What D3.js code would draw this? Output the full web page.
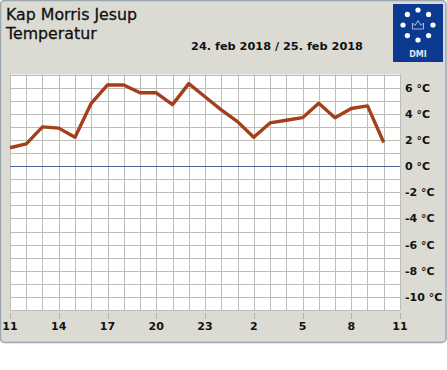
<!DOCTYPE html>
<html>
<head>
<meta charset="utf-8">
<script src="https://cdn.jsdelivr.net/npm/d3@7"></script>
<style>
  body { margin: 0; background: #fff; }
  svg { display: block; font-family: "DejaVu Sans", sans-serif; }
</style>
</head>
<body>
<div id="chart"></div>
<script>
var svgWidth = 447;
var svgHeight = 370;

// hourly readings, 24 feb 11:00 -> 25 feb 10:00
var hours = [11, 12, 13, 14, 15, 16, 17, 18, 19, 20, 21, 22, 23, 0, 1, 2, 3, 4, 5, 6, 7, 8, 9, 10];
var temps = [1.4, 1.7, 3.0, 2.9, 2.2, 4.8, 6.2, 6.2, 5.6, 5.6, 4.7, 6.3, 5.3, 4.3, 3.4, 2.2, 3.3, 3.5, 3.7, 4.8, 3.7, 4.4, 4.6, 1.8];
var xTickLabels = ["11", "14", "17", "20", "23", "2", "5", "8", "11"];
var yTicks = [6, 4, 2, 0, -2, -4, -6, -8, -10];

var plot = { left: 10, top: 74.5, right: 400, bottom: 310 };

var svg = d3.select("#chart")
  .append("svg")
  .attr("width", svgWidth)
  .attr("height", svgHeight);

// grey panel
svg.append("rect")
  .attr("x", 0.5).attr("y", 0.5)
  .attr("width", 445.5).attr("height", 342)
  .attr("rx", 4)
  .attr("fill", "#dcdbd3")
  .attr("stroke", "#9ba7ae")
  .attr("stroke-width", 1.5);

// scales: index of hour along x, temperature along y
var x = d3.scaleLinear().domain([0, 24]).range([plot.left, plot.right]);
var y = d3.scaleLinear().domain([-11, 7]).range([plot.bottom, plot.top]);

svg.append("rect")
  .attr("x", plot.left).attr("y", plot.top)
  .attr("width", plot.right - plot.left).attr("height", plot.bottom - plot.top)
  .attr("fill", "#fff");

var grid = svg.append("g").attr("stroke", "#bdbdb8").attr("stroke-width", 1);

grid.selectAll("line.v")
  .data(d3.range(0, 25))
  .enter().append("line")
  .attr("x1", d => Math.round(x(d)) + 0.5).attr("x2", d => Math.round(x(d)) + 0.5)
  .attr("y1", plot.top).attr("y2", plot.bottom);

grid.selectAll("line.h")
  .data(d3.range(-11, 8))
  .enter().append("line")
  .attr("x1", plot.left).attr("x2", plot.right)
  .attr("y1", d => Math.round(y(d)) + 0.5).attr("y2", d => Math.round(y(d)) + 0.5);

// zero line
svg.append("line")
  .attr("x1", plot.left).attr("x2", plot.right)
  .attr("y1", Math.round(y(0)) + 0.5).attr("y2", Math.round(y(0)) + 0.5)
  .attr("stroke", "#4f6496").attr("stroke-width", 1);

// x axis ticks and labels
var xAxis = svg.append("g");
xAxis.selectAll("line")
  .data(xTickLabels)
  .enter().append("line")
  .attr("x1", (d, i) => Math.round(x(i * 3)) + 0.5).attr("x2", (d, i) => Math.round(x(i * 3)) + 0.5)
  .attr("y1", 313).attr("y2", 319)
  .attr("stroke", "#b5b5b0");
xAxis.selectAll("text")
  .data(xTickLabels)
  .enter().append("text")
  .attr("x", (d, i) => x(i * 3))
  .attr("y", 330)
  .attr("text-anchor", "middle")
  .attr("font-size", "11px")
  .attr("font-weight", "bold")
  .attr("fill", "#111")
  .text(d => d);

// y labels on the right
svg.append("g").selectAll("text")
  .data(yTicks)
  .enter().append("text")
  .attr("x", 405)
  .attr("y", d => y(d))
  .attr("dy", "0.36em")
  .attr("font-size", "11px")
  .attr("font-weight", "bold")
  .attr("fill", "#111")
  .text(d => d + " \u00b0C");

// temperature line
var line = d3.line()
  .x((d, i) => x(i))
  .y(d => y(d));

svg.append("path")
  .datum(temps)
  .attr("d", line)
  .attr("fill", "none")
  .attr("stroke", "#a33f1b")
  .attr("stroke-width", 3.4)
  .attr("stroke-linejoin", "round");

// titles
svg.append("text")
  .attr("x", 6).attr("y", 20)
  .attr("font-size", "15.8px")
  .attr("fill", "#111")
  .attr("stroke", "#111").attr("stroke-width", 0.3)
  .text("Kap Morris Jesup");
svg.append("text")
  .attr("x", 6).attr("y", 39)
  .attr("font-size", "15.8px")
  .attr("fill", "#111")
  .attr("stroke", "#111").attr("stroke-width", 0.3)
  .text("Temperatur");
svg.append("text")
  .attr("x", 277).attr("y", 50)
  .attr("text-anchor", "middle")
  .attr("font-size", "11.3px")
  .attr("font-weight", "bold")
  .attr("fill", "#111")
  .text("24. feb 2018 / 25. feb 2018");

// DMI logo
var logo = svg.append("g").attr("transform", "translate(393,4)");
logo.append("rect").attr("width", 50).attr("height", 58).attr("fill", "#0d3a91");
var dotAngles = d3.range(0, 8).map(i => i * Math.PI / 4);
logo.selectAll("circle")
  .data(dotAngles)
  .enter().append("circle")
  .attr("cx", d => 25 + 15 * Math.sin(d))
  .attr("cy", d => 21 - 15 * Math.cos(d))
  .attr("r", 2.6)
  .attr("fill", "#fff");
// little crown
logo.append("path")
  .attr("d", "M19.5,25 L19.5,19 L22,21.5 L25,16.5 L28,21.5 L30.5,19 L30.5,25 Z")
  .attr("fill", "none").attr("stroke", "#aab8e0").attr("stroke-width", 1);
logo.append("text")
  .attr("x", 25).attr("y", 53)
  .attr("text-anchor", "middle")
  .attr("font-size", "8px")
  .attr("font-weight", "bold")
  .attr("fill", "#dfe6f5")
  .text("DMI");
</script>
</body>
</html>
